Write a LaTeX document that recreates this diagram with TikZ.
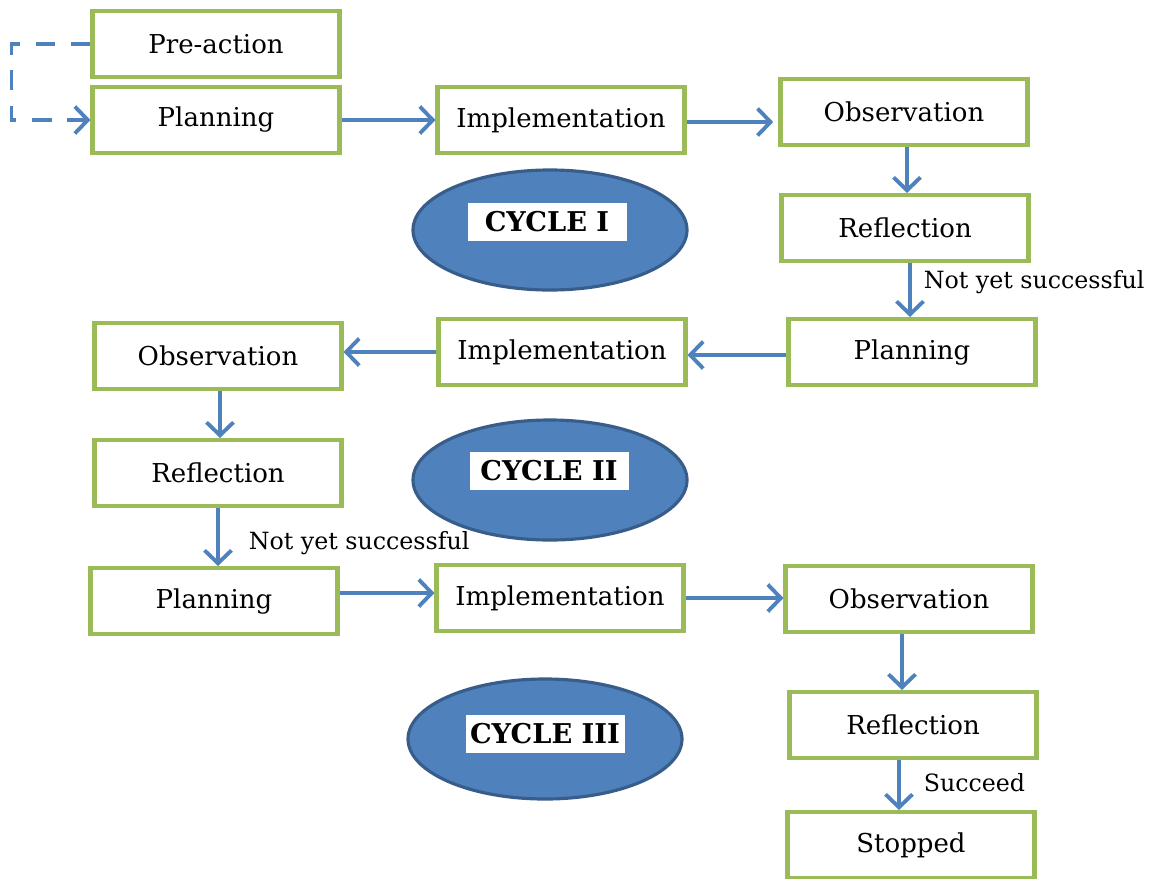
\documentclass[tikz,border=0pt]{standalone}
\usepackage{fontspec}
\setmainfont{DejaVu Serif}
\usetikzlibrary{arrows.meta,shapes.geometric}

\definecolor{boxgreen}{RGB}{155,187,89}
\definecolor{flowblue}{RGB}{79,129,189}
\definecolor{rimblue}{RGB}{56,93,138}

\tikzset{
  stage/.style={draw=boxgreen, line width=2.3pt, fill=white,
    minimum width=49.4mm, minimum height=13.2mm, inner sep=0pt,
    font=\fontsize{14.8}{17}\selectfont},
  flow/.style={draw=flowblue, line width=2.2pt,
    -{Straight Barb[length=2.6mm,width=5.4mm,line width=2.2pt]}},
  note/.style={font=\fontsize{13.5}{16}\selectfont},
  cycleshape/.style={ellipse, draw=rimblue, line width=1.8pt, fill=flowblue,
    minimum width=54.8mm, minimum height=24mm, inner sep=0pt},
  cyclelabel/.style={fill=white, minimum width=31.8mm, minimum height=7.6mm,
    inner sep=0pt, font=\fontsize{15.5}{17}\selectfont\bfseries}
}

\begin{document}
\begin{tikzpicture}[x=0.2mm,y=-0.2mm]

    \useasboundingbox (0,0) rectangle (1150,878);

    % Cycle I boxes
    \node[stage] (pre)   at (216,44)  {Pre-action};
    \node[stage] (plan1) at (216,120) {Planning};
    \node[stage] (impl1) at (561,120) {Implementation};
    \node[stage] (obs1)  at (904,112) {Observation};
    \node[stage] (ref1)  at (905,228) {Reflection};

    % Cycle II boxes
    \node[stage] (plan2) at (912,352) {Planning};
    \node[stage] (impl2) at (562,352) {Implementation};
    \node[stage] (obs2)  at (218,356) {Observation};
    \node[stage] (ref2)  at (218,473) {Reflection};

    % Cycle III boxes
    \node[stage] (plan3) at (214,601) {Planning};
    \node[stage] (impl3) at (560,598) {Implementation};
    \node[stage] (obs3)  at (909,599) {Observation};
    \node[stage] (ref3)  at (913,725) {Reflection};
    \node[stage] (stop)  at (911,845) {Stopped};

    % Cycle ellipses
    \node[cycleshape] (cyc1) at (550,230) {};
    \node[cyclelabel] (lab1) at (547,222) {CYCLE I};
    \node[cycleshape] (cyc2) at (550,480) {};
    \node[cyclelabel] (lab2) at (549,471) {CYCLE II};
    \node[cycleshape] (cyc3) at (545,739) {};
    \node[cyclelabel] (lab3) at (545,734) {CYCLE III};

    % Dashed loop from pre-action
    \draw[flow, dash pattern=on 11pt off 9pt] (pre.west) -- ++(-79,0) |- (plan1.west);

    % Cycle I arrows
    \draw[flow] (plan1.east) -- (impl1.west);
    \draw[flow, shorten >=3pt] ([yshift=-0.4mm]impl1.east) -- ([yshift=-0.4mm]impl1.east -| obs1.west);
    \draw[flow] ([xshift=0.6mm]obs1.south) -- ([xshift=0.6mm]obs1.south |- ref1.north);
    \draw[flow] ([xshift=1mm]ref1.south) -- ([xshift=1mm]ref1.south |- plan2.north)
      node[note, pos=0.35, right=1.2mm] {Not yet successful};

    % Cycle II arrows
    \draw[flow] ([yshift=-0.6mm]plan2.west) -- ([yshift=-0.6mm]impl2.east |- plan2.west);
    \draw[flow] (impl2.west) -- (impl2.west -| obs2.east);
    \draw[flow] ([xshift=0.4mm]obs2.south) -- ([xshift=0.4mm]obs2.south |- ref2.north);
    \draw[flow] (ref2.south) -- (ref2.south |- plan3.north)
      node[note, pos=0.6, right=4.6mm] {Not yet successful};

    % Cycle III arrows
    \draw[flow] ([yshift=1.6mm]plan3.east) -- ([yshift=1.6mm]plan3.east -| impl3.west);
    \draw[flow] (impl3.east) -- (impl3.east -| obs3.west);
    \draw[flow] ([xshift=-1.4mm]obs3.south) -- ([xshift=-1.4mm]obs3.south |- ref3.north);
    \draw[flow] ([xshift=-2.8mm]ref3.south) -- ([xshift=-2.8mm]ref3.south |- stop.north)
      node[note, pos=0.45, right=3.4mm] {Succeed};

\end{tikzpicture}
\end{document}
